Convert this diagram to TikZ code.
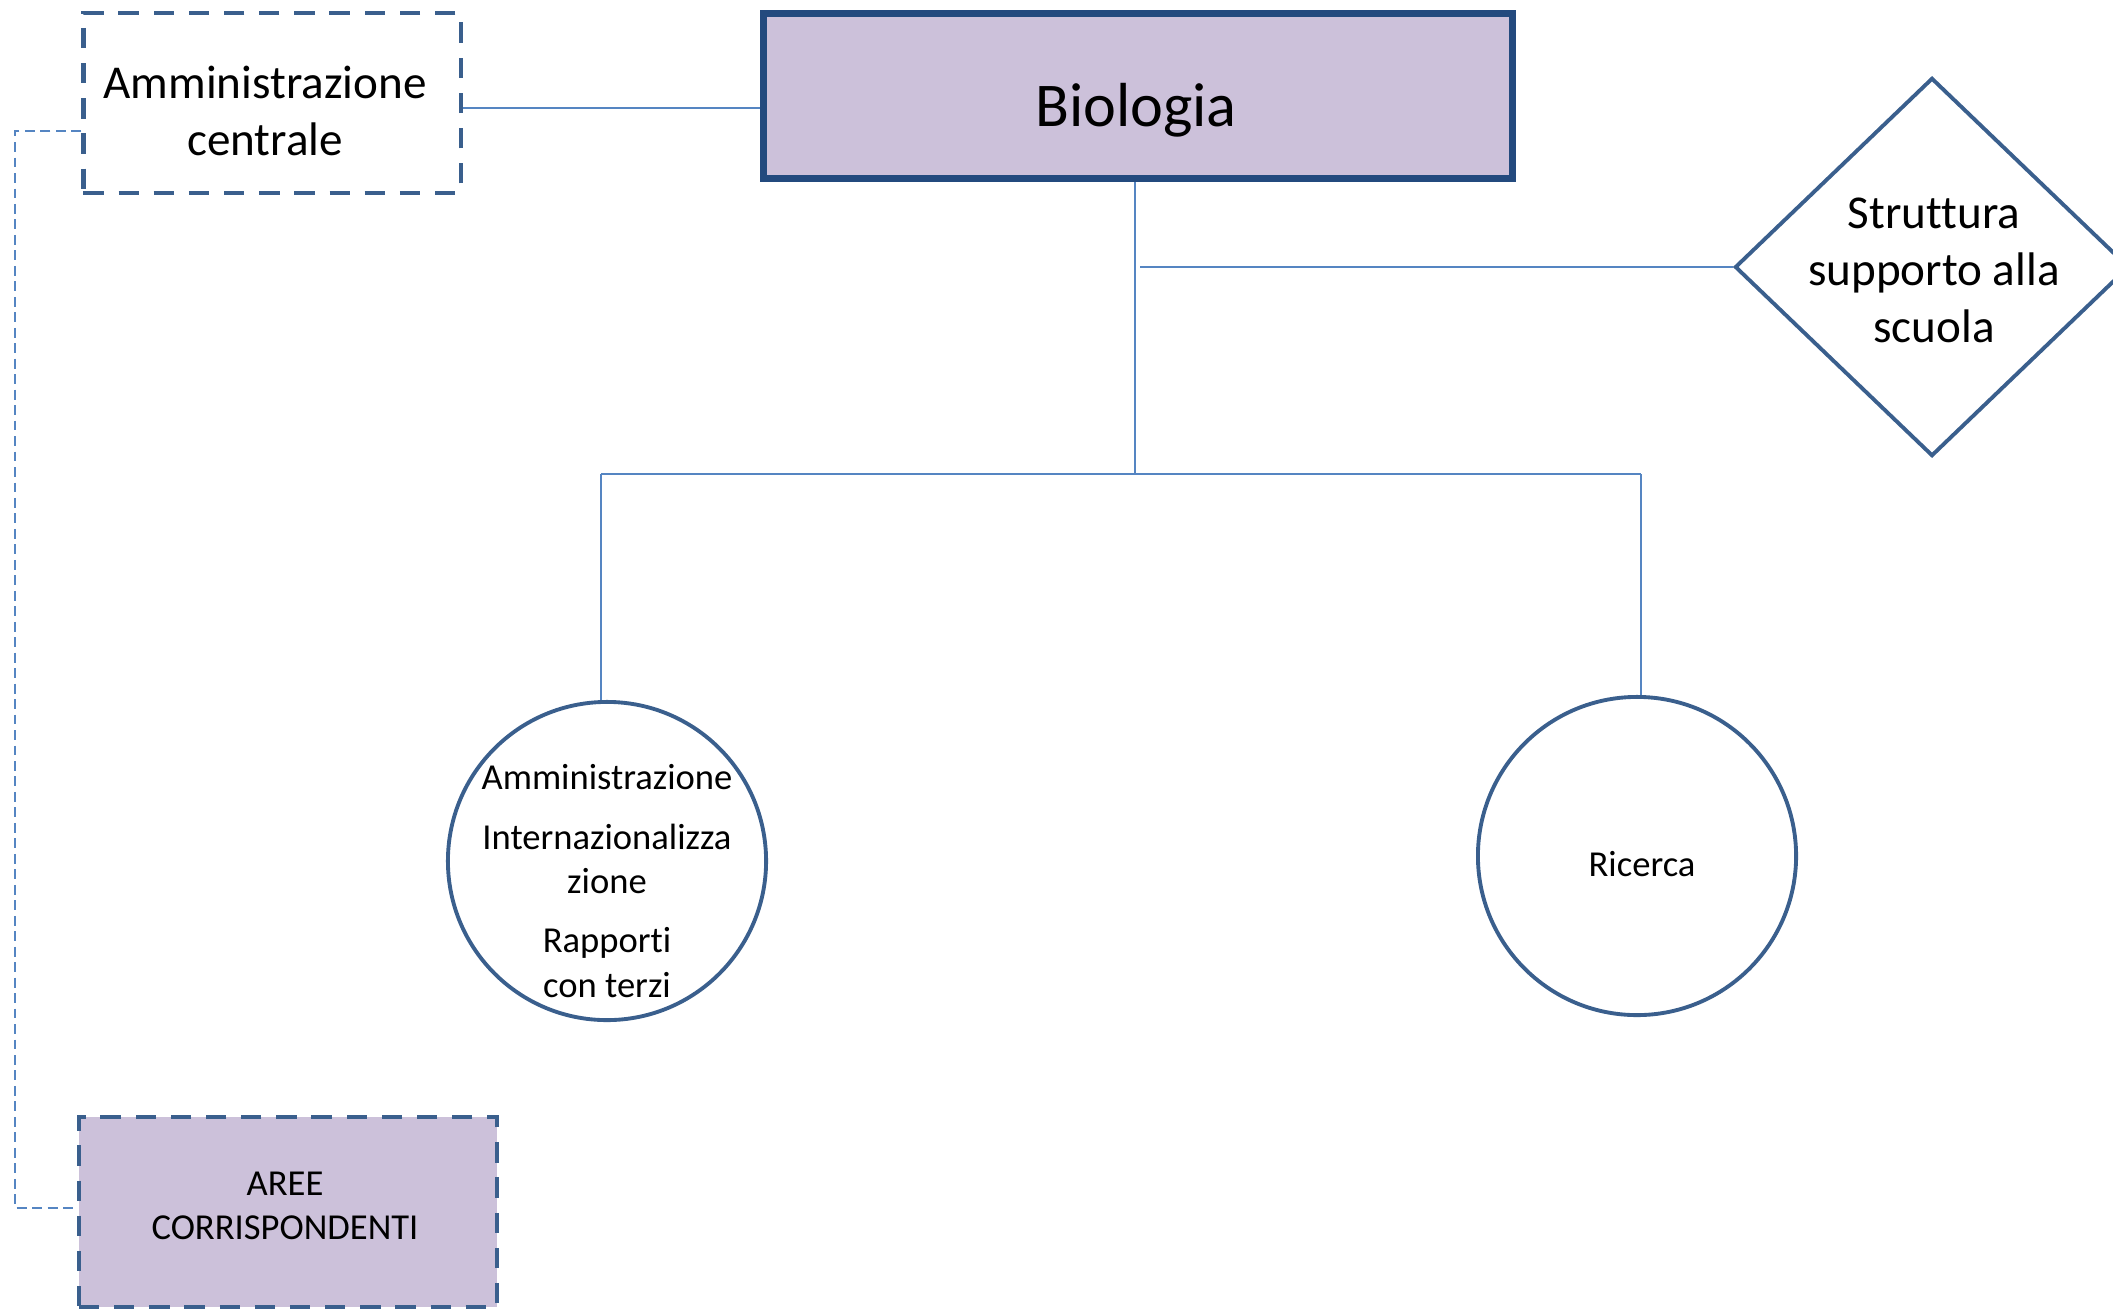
\documentclass[tikz,border=0pt]{standalone}
\usepackage{fontspec}
\setmainfont[Ligatures=NoCommon]{Carlito}
\usetikzlibrary{shapes.geometric}

\definecolor{lavender}{HTML}{CCC1DA}
\definecolor{deepblue}{HTML}{234A7E}
\definecolor{shapeblue}{HTML}{3A5F8D}
\definecolor{linkblue}{HTML}{5585C2}

\begin{document}
\begin{tikzpicture}[x=0.01cm, y=-0.01cm,
    link/.style={draw=linkblue, line width=0.6pt},
    dashlink/.style={link, dash pattern=on 2.8pt off 1.6pt},
    dashbox/.style={rectangle, draw=shapeblue, line width=1.2pt,
        dash pattern=on 5.8pt off 4.2pt, align=center},
    unitcirc/.style={circle, draw=shapeblue, line width=1.1pt,
        minimum size=3.18cm, inner sep=0pt},
    bigtext/.style={font=\fontsize{13.4}{16.2}\selectfont, align=center},
    smalltext/.style={font=\fontsize{10.4}{12.6}\selectfont, align=center}]

    % area della figura
    \useasboundingbox (0,0) rectangle (2113,1309);
    \clip (0,0) rectangle (2113,1309);

    % nodo principale
    \node (biologia) [rectangle, fill=lavender, draw=deepblue, line width=2pt,
        minimum width=7.48cm, minimum height=1.65cm] at (1138,96) {};
    \node (biotxt) [font=\fontsize{17.7}{21}\selectfont] at (1136,110) {Biologia};

    % amministrazione centrale (tratteggiato)
    \node (ammcentrale) [dashbox, minimum width=3.77cm,
        minimum height=1.8cm] at (272,103) {};
    \node (ammtxtc) [bigtext] at (265,111) {Amministrazione\\centrale};

    % struttura di supporto (rombo)
    \node (scuola) [diamond, draw=shapeblue, line width=1.1pt, inner sep=0pt,
        minimum width=3.94cm, minimum height=3.78cm] at (1932,267) {};
    \node (scuolatxt) [bigtext] at (1934,270) {Struttura\\supporto alla\\scuola};

    % cerchi
    \node (ammcirc) [unitcirc] at (607,861) {};
    \node (ammtxt) [smalltext] at (607,881) {Amministrazione\\[4.3pt]
        Internazionalizza\\zione\\[4.3pt]Rapporti\\con terzi};
    \node (riccirc) [unitcirc] at (1637,856) {};
    \node (rictxt) [smalltext] at (1642,864) {Ricerca};

    % aree corrispondenti
    \node (aree) [dashbox, fill=lavender, minimum width=4.18cm,
        minimum height=1.9cm] at (288,1212) {};
    \node (areetxt) [smalltext] at (285,1206) {AREE\\CORRISPONDENTI};

    % collegamenti
    \coordinate (hub) at (1135,474);
    \coordinate (lbranch) at (601,474);
    \coordinate (rbranch) at (1641,474);
    \draw[link] (ammcentrale.east |- 0,108) -- (biologia.west |- 0,108);
    \draw[link] (hub |- biologia.south) -- (hub);
    \draw[link] (hub |- scuola.west) ++(5,0) -- (scuola.west);
    \draw[link] (lbranch) -- (rbranch);
    \draw[link] (lbranch) -- (lbranch |- ammcirc.north);
    \draw[link] (rbranch) -- (rbranch |- riccirc.north);
    \draw[dashlink] (ammcentrale.west |- 0,131) -- (15,131) |- (aree.west |- 0,1208);
\end{tikzpicture}
\end{document}
